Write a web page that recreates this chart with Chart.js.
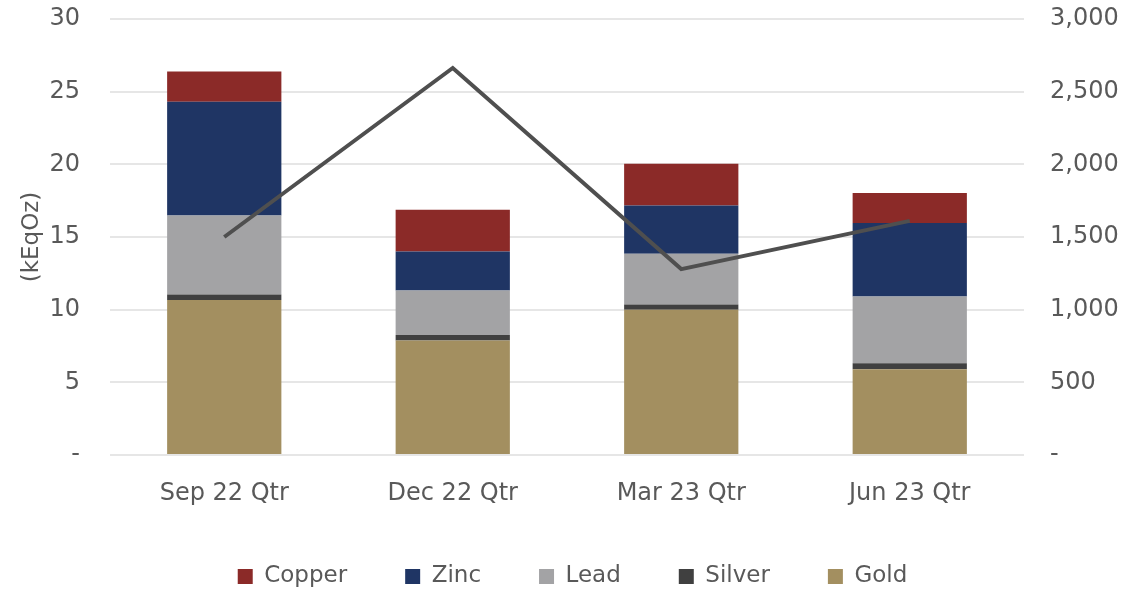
<!DOCTYPE html>
<html>
<head>
<meta charset="utf-8">
<script src="https://cdn.jsdelivr.net/npm/chart.js@4"></script>
<style>
  html, body { margin: 0; padding: 0; background: #ffffff; }
  #wrap { width: 1145px; height: 589px; position: relative; }
</style>
</head>
<body>
<div id="wrap"><canvas id="c"></canvas></div>
<script>
// ---- data ----
const categories = ['Sep 22 Qtr', 'Dec 22 Qtr', 'Mar 23 Qtr', 'Jun 23 Qtr'];
const gold   = [10.67, 7.87, 9.99, 5.90];
const silver = [0.37, 0.39, 0.36, 0.41];
const lead   = [5.44, 3.06, 3.49, 4.59];
const zinc   = [7.83, 2.68, 3.33, 5.06];
const copper = [2.07, 2.87, 2.87, 2.06];
const lineSeries = [1500, 2663, 1279, 1611];
const leftTicks = [0, 5, 10, 15, 20, 25, 30];
const rightTicks = [0, 500, 1000, 1500, 2000, 2500, 3000];

const TEXT = '#595959';
const FONT = 'DejaVu Sans';

const legendPatch = {
  id: 'legendPatch',
  afterInit(chart) {
    const lg = chart.legend;
    if (!lg) return;
    const orig = lg.fit.bind(lg);
    lg.fit = function () {
      orig();
      this.height = 82;
    };
  }
};

new Chart(document.getElementById('c'), {
  data: {
    labels: categories,
    datasets: [
      { type: 'line', label: 'Line', data: lineSeries, yAxisID: 'y1', order: 0,
        borderColor: '#4f4f4f', borderWidth: 4, pointRadius: 0, tension: 0, fill: false },
      { type: 'bar', label: 'Gold', data: gold, backgroundColor: '#a38f60', yAxisID: 'y', order: 1 },
      { type: 'bar', label: 'Silver', data: silver, backgroundColor: '#404040', yAxisID: 'y', order: 1 },
      { type: 'bar', label: 'Lead', data: lead, backgroundColor: '#a3a3a5', yAxisID: 'y', order: 1 },
      { type: 'bar', label: 'Zinc', data: zinc, backgroundColor: '#1f3564', yAxisID: 'y', order: 1 },
      { type: 'bar', label: 'Copper', data: copper, backgroundColor: '#8b2a28', yAxisID: 'y', order: 1 }
    ]
  },
  options: {
    responsive: true,
    maintainAspectRatio: false,
    animation: false,
    layout: { padding: { top: 19, bottom: 0, left: 0, right: 0 } },
    datasets: { bar: { barPercentage: 0.5, categoryPercentage: 1.0 } },
    plugins: {
      tooltip: { enabled: false },
      legend: {
        position: 'bottom',
        reverse: true,
        labels: {
          filter: (item) => item.text !== 'Line',
          boxWidth: 15, boxHeight: 15, padding: 58,
          color: TEXT, font: { family: FONT, size: 23 }
        }
      }
    },
    scales: {
      x: {
        stacked: true,
        grid: { display: false, drawTicks: false },
        border: { display: false },
        ticks: { color: TEXT, font: { family: FONT, size: 24 }, padding: 24, maxRotation: 0 },
        afterFit: (s) => { s.height = 52; }
      },
      y: {
        stacked: true,
        position: 'left',
        min: 0, max: 30,
        afterBuildTicks: (s) => { s.ticks = leftTicks.map(v => ({ value: v })); },
        grid: { color: '#e6e6e6', lineWidth: 2, drawTicks: true, tickLength: 30, tickColor: 'rgba(0,0,0,0)' },
        border: { display: false },
        ticks: { color: TEXT, font: { family: FONT, size: 24 }, padding: 0,
          callback: (v) => v === 0 ? '-' : String(v) },
        title: { display: true, text: '(kEqOz)', color: TEXT,
          font: { family: FONT, size: 23 }, padding: { top: 18, bottom: 0 } },
        afterFit: (s) => { s.width = 110; }
      },
      y1: {
        position: 'right',
        min: 0, max: 3000,
        afterBuildTicks: (s) => { s.ticks = rightTicks.map(v => ({ value: v })); },
        grid: { display: true, drawOnChartArea: false, drawTicks: true, tickLength: 26, tickColor: 'rgba(0,0,0,0)' },
        border: { display: false },
        ticks: { color: TEXT, font: { family: FONT, size: 24 }, padding: 0,
          callback: (v) => v === 0 ? '-' : Number(v).toLocaleString('en-US') },
        afterFit: (s) => { s.width = 121; }
      }
    }
  },
  plugins: [legendPatch]
});
</script>
</body>
</html>
